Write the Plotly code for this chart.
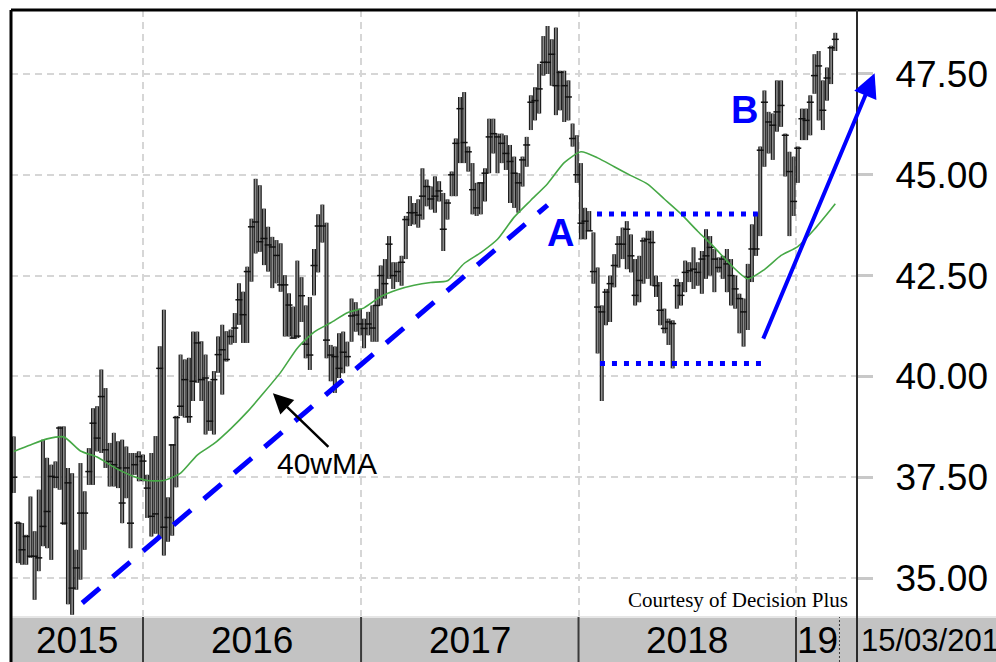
import plotly.graph_objects as go
import pandas as pd

# ---------------- data (weekly bars) ----------------
high = [38.51, 36.40, 36.36, 36.07, 37.02, 36.16, 37.19, 38.43, 37.98, 37.81, 37.89, 38.76, 38.76, 37.73, 37.60, 35.70, 37.85, 37.15, 38.22, 39.21,
        39.26, 40.17, 39.71, 38.35, 38.60, 38.39, 38.43, 38.26, 38.10, 38.10, 38.14, 38.06, 37.56, 38.10,
        38.52, 40.75, 41.65, 37.00, 38.32, 39.02, 40.54, 40.42, 40.46, 41.11, 41.11, 40.87, 40.54, 39.88, 40.13, 40.99,
        41.28, 41.12, 41.16, 41.57, 42.31, 42.10, 42.72, 43.91, 44.90, 44.74, 44.16, 43.71, 43.46, 43.38, 43.30, 42.51, 42.06, 41.73,
        42.87, 42.46, 41.76, 41.97, 43.16, 44.02, 44.26, 43.81, 40.78, 40.74, 41.07, 41.11, 40.86, 41.93, 41.84, 41.68,
        41.43, 41.60, 41.76, 42.17, 42.75, 42.91, 43.48, 42.83, 42.83, 42.99, 43.98, 44.47, 44.30, 44.39, 45.16, 44.88, 44.71,
        44.96, 44.84, 44.55, 44.39, 45.08, 45.90, 46.93, 47.05, 45.70, 45.29, 44.80, 44.80, 45.16, 46.39, 46.39, 46.02, 46.02,
        45.98, 45.74, 45.45, 45.04, 45.45, 45.94, 46.97, 47.17, 47.75, 48.44, 48.69, 48.36, 48.65, 47.58, 47.58, 47.34, 46.27, 45.98,
        45.29, 44.18, 44.10, 43.57, 42.70, 41.76, 42.17, 42.50, 43.03, 43.48, 43.69, 43.85, 43.52, 42.91, 42.99, 43.44, 43.61,
        43.61, 42.50, 42.34, 41.68, 41.43, 41.39, 42.42, 42.34, 42.87, 42.83, 43.20, 42.83, 43.11, 43.65, 43.48, 43.16, 42.95, 42.99,
        43.16, 42.91, 42.50, 42.05, 41.93, 42.79, 43.77, 44.06, 45.70, 47.09, 46.56, 46.52, 47.34, 47.34, 46.02, 45.57, 45.45,
        45.70, 46.64, 46.64, 46.97, 47.99, 48.07, 47.34, 47.66, 48.20, 48.52]
low = [37.11, 35.37, 35.33, 35.33, 35.50, 34.46, 35.17, 35.79, 35.74, 35.45, 37.23, 37.19, 36.32, 34.35, 34.09, 34.71, 34.96, 35.70, 37.31, 37.31,
       38.14, 38.10, 37.73, 37.27, 37.27, 37.23, 36.36, 36.98, 35.74, 37.56, 37.40, 37.40, 36.49, 36.03,
       36.10, 36.00, 35.56, 35.90, 36.05, 37.25, 39.02, 38.98, 38.85, 39.39, 39.84, 39.39, 38.56, 38.65, 38.56, 40.09,
       39.55, 40.37, 40.79, 40.83, 41.28, 40.83, 40.83, 42.35, 43.05, 43.09, 42.76, 42.60, 42.19, 42.31, 42.10, 40.99, 40.99, 40.95,
       40.95, 41.35, 40.45, 40.16, 42.01, 42.58, 43.32, 40.45, 39.88, 39.59, 39.96, 40.08, 40.25, 40.86, 41.11, 41.02,
       40.70, 41.02, 40.86, 40.86, 41.76, 41.93, 42.42, 42.17, 42.34, 42.25, 42.91, 43.73, 43.77, 43.69, 43.89, 44.22, 44.14,
       44.06, 44.34, 43.11, 43.89, 44.47, 44.47, 45.29, 45.29, 45.08, 44.02, 43.98, 44.02, 44.34, 45.04, 45.53, 45.04, 45.29,
       45.12, 44.30, 44.18, 44.06, 44.71, 45.20, 46.11, 46.35, 46.52, 47.46, 47.50, 47.21, 46.48, 46.60, 46.31, 46.35, 45.70, 44.80,
       43.40, 43.40, 43.61, 42.30, 40.57, 39.39, 41.27, 41.35, 42.21, 42.70, 42.91, 42.66, 42.58, 41.76, 41.84, 42.30, 42.42,
       42.25, 41.97, 41.27, 41.07, 40.78, 40.20, 41.68, 41.76, 42.09, 42.34, 42.17, 42.25, 42.05, 42.42, 42.50, 42.09, 42.58, 42.42,
       42.09, 41.76, 41.68, 41.07, 40.74, 41.15, 42.34, 42.99, 43.48, 45.20, 45.53, 45.37, 46.07, 46.19, 44.96, 43.48, 43.98,
       44.80, 45.86, 45.86, 45.98, 47.01, 46.35, 46.11, 46.84, 47.25, 48.07]
close = [37.50, 36.36, 35.70, 36.03, 35.54, 35.54, 35.50, 36.28, 36.65, 37.52, 37.50, 38.72, 36.36, 37.36, 34.75, 35.25, 36.61, 36.61, 37.64, 38.84,
         38.47, 39.50, 38.18, 37.89, 37.81, 37.73, 36.86, 37.73, 36.36, 37.81, 38.01, 37.90, 37.23, 36.53,
         36.59, 40.20, 36.26, 36.50, 38.30, 38.98, 39.26, 39.92, 39.00, 39.88, 40.83, 39.92, 39.96, 38.89, 39.92, 40.54,
         40.66, 40.42, 40.99, 41.20, 41.90, 41.53, 42.60, 43.71, 43.83, 43.34, 43.42, 43.26, 43.21, 43.00, 42.27, 42.27, 41.77, 40.95,
         41.00, 42.00, 40.80, 40.53, 42.75, 43.73, 43.73, 40.90, 40.53, 40.49, 40.20, 40.60, 40.49, 41.50, 41.52, 41.30,
         41.19, 41.30, 41.20, 41.76, 42.50, 42.30, 43.28, 42.50, 42.60, 42.83, 43.89, 44.06, 44.06, 44.00, 44.47, 44.71, 44.40,
         44.47, 44.60, 43.65, 44.30, 45.00, 45.78, 46.64, 45.80, 45.57, 44.63, 44.18, 44.80, 45.04, 45.94, 46.02, 45.94, 45.78,
         45.53, 45.33, 45.04, 44.80, 45.37, 45.74, 46.80, 46.84, 47.13, 47.79, 47.79, 47.99, 47.21, 47.54, 47.21, 46.93, 45.90, 45.00,
         43.80, 43.85, 43.61, 42.60, 41.72, 41.60, 42.09, 42.30, 42.75, 43.28, 43.28, 43.65, 42.99, 42.01, 42.38, 43.36, 43.40,
         43.32, 42.25, 41.64, 41.19, 41.35, 41.31, 42.25, 42.01, 42.58, 42.62, 42.66, 42.58, 42.91, 42.99, 43.20, 42.91, 42.70, 42.91,
         42.79, 42.50, 42.17, 41.93, 41.60, 42.46, 43.16, 43.16, 45.61, 46.80, 46.31, 46.23, 46.56, 46.72, 45.98, 45.08, 44.34,
         45.66, 46.39, 46.35, 46.80, 47.46, 47.70, 46.60, 47.40, 48.15, 48.36]
first_week = "2015-05-29"
last_date = "2019-03-15"

# 40-week moving average, read every 4th week (bar index) plus the last bar
ma_index = list(range(0, 197, 4)) + [197]
ma_values = [38.14, 38.30, 38.45, 38.50, 38.15, 38.00, 37.75, 37.55, 37.42, 37.42, 37.60, 38.05, 38.33, 38.70, 39.12, 39.60, 40.10,
             40.70, 41.10, 41.33, 41.58, 41.70, 41.98, 42.15, 42.26, 42.33, 42.37, 42.80, 43.07, 43.40, 43.95, 44.37, 44.78,
             45.30, 45.57, 45.42, 45.20, 44.98, 44.77, 44.40, 44.03, 43.60, 43.20, 42.76, 42.42, 42.65, 43.00, 43.22, 43.65,
             44.15, 44.28]

y_ticks = [35.0, 37.5, 40.0, 42.5, 45.0, 47.5]
year_bounds = ["2016-01-01", "2017-01-01", "2018-01-01", "2019-01-01"]
year_labels = ["2015", "2016", "2017", "2018", "19"]
date_label = "15/03/2019"

# annotation geometry (data coordinates)
trend_start = ("2015-09-21", 34.38)
trend_end = ("2017-11-10", 44.25)
box_top = ("2018-02-01", "2018-10-29", 44.03)
box_bottom = ("2018-02-06", "2018-11-05", 40.32)
arrow_tail = ("2018-11-06", 40.90)
arrow_tip = ("2019-05-13", 47.52)
ma_arrow_tip = ("2016-08-06", 39.58)

# ---------------- figure ----------------
dates = pd.date_range(first_week, periods=len(close), freq="7D")
opens = [close[0]] + close[:-1]
ma_dates = [dates[i] for i in ma_index]

x_range = [pd.Timestamp("2015-05-24 10:00"), pd.Timestamp("2019-04-13 10:00")]
y_range = [34.033, 49.087]

def xfrac(d):
    d = pd.Timestamp(d)
    return (d - x_range[0]) / (x_range[1] - x_range[0])

fig = go.Figure()
# outlined bars: dark wide stroke underneath, grey stroke on top
fig.add_trace(go.Ohlc(x=dates, open=opens, high=high, low=low, close=close,
                      increasing=dict(line=dict(color="#1e1e1e", width=4)),
                      decreasing=dict(line=dict(color="#1e1e1e", width=4)),
                      tickwidth=0, hoverinfo="skip"))
fig.add_trace(go.Ohlc(x=dates, open=opens, high=high, low=low, close=close,
                      increasing=dict(line=dict(color="#8c8c8c", width=1.6)),
                      decreasing=dict(line=dict(color="#8c8c8c", width=1.6)),
                      tickwidth=0, hoverinfo="skip"))
fig.add_trace(go.Scatter(x=dates, y=close, mode="markers",
                         marker=dict(symbol="line-ew", size=5, line=dict(width=1.5, color="#111111")),
                         hoverinfo="skip"))
fig.add_trace(go.Scatter(x=ma_dates, y=ma_values, mode="lines",
                         line=dict(color="#46a846", width=1.6, shape="spline", smoothing=0.6),
                         hoverinfo="skip"))

W, H = 996, 662
ML, MR, MT, MB = 11, 139, 10, 45
pw, ph = W - ML - MR, H - MT - MB
band_y = -MB / ph
right_x = (W - ML) / pw

grid = dict(showgrid=True, gridcolor="#d6d6d6", gridwidth=2, griddash="7px,5px")

fig.update_layout(
    width=W, height=H, autosize=False, margin=dict(l=ML, r=MR, t=MT, b=MB, pad=0, autoexpand=False),
    paper_bgcolor="white", plot_bgcolor="white", showlegend=False,
    xaxis=dict(type="date", range=x_range, tickvals=year_bounds, showticklabels=False, automargin=False,
               ticks="", zeroline=False, showline=False, rangeslider=dict(visible=False), **grid),
    yaxis=dict(side="right", range=y_range, tickvals=y_ticks, tickformat=".2f", automargin=False,
               ticks="outside", ticklen=15, tickwidth=3, tickcolor="#c8c8c8",
               ticklabelstandoff=15,
               tickfont=dict(family="Liberation Sans", size=37, color="black"),
               zeroline=False, showline=False, **grid),
)

shapes = []
# bottom band
shapes.append(dict(type="rect", xref="paper", yref="paper", x0=0, x1=right_x, y0=band_y, y1=0,
                   fillcolor="#c3c3c3", line=dict(width=0)))
shapes.append(dict(type="line", xref="paper", yref="paper", x0=0, x1=right_x, y0=0, y1=0,
                   line=dict(color="#e6e6e6", width=2)))
for d in year_bounds:
    fx = xfrac(d)
    shapes.append(dict(type="line", xref="paper", yref="paper", x0=fx, x1=fx, y0=band_y, y1=0,
                       line=dict(color="#3a3a3a", width=2)))
fx = xfrac(last_date)
shapes.append(dict(type="line", xref="paper", yref="paper", x0=fx, x1=fx, y0=band_y, y1=0,
                   line=dict(color="#3a3a3a", width=1, dash="2px,2px")))
# frame
shapes.append(dict(type="line", xref="paper", yref="paper", x0=0, x1=right_x, y0=1, y1=1,
                   line=dict(color="black", width=3)))
shapes.append(dict(type="line", xref="paper", yref="paper", x0=0, x1=0, y0=band_y, y1=1,
                   line=dict(color="black", width=3)))
shapes.append(dict(type="line", xref="paper", yref="paper", x0=1, x1=1, y0=band_y, y1=1,
                   line=dict(color="#2a2a2a", width=2)))
# blue trend line and box
shapes.append(dict(type="line", xref="x", yref="y", x0=trend_start[0], y0=trend_start[1],
                   x1=trend_end[0], y1=trend_end[1], line=dict(color="#0000ff", width=5, dash="23px,17px")))
for seg in (box_top, box_bottom):
    shapes.append(dict(type="line", xref="x", yref="y", x0=seg[0], x1=seg[1], y0=seg[2], y1=seg[2],
                       line=dict(color="#0000ff", width=5, dash="5px,7px")))
fig.update_layout(shapes=shapes)

ann = []
ann.append(dict(xref="x", yref="y", x=arrow_tip[0], y=arrow_tip[1], axref="x", ayref="y",
                ax=arrow_tail[0], ay=arrow_tail[1], text="", showarrow=True,
                arrowhead=2, arrowsize=1.2, arrowwidth=4, arrowcolor="#0000ff"))
ann.append(dict(xref="x", yref="y", x=ma_arrow_tip[0], y=ma_arrow_tip[1], ax=57, ay=55,
                text="", showarrow=True, arrowhead=2, arrowsize=1.6, arrowwidth=2.5, arrowcolor="black"))
ann.append(dict(xref="x", yref="y", x="2016-11-04", y=37.85, text="40wMA", showarrow=False,
                font=dict(family="Liberation Sans", size=30, color="black")))
ann.append(dict(xref="x", yref="y", x="2017-12-01", y=43.56, text="<b>A</b>", showarrow=False,
                font=dict(family="Liberation Sans", size=38, color="#0000ff")))
ann.append(dict(xref="x", yref="y", x="2018-10-07", y=46.60, text="<b>B</b>", showarrow=False,
                font=dict(family="Liberation Sans", size=38, color="#0000ff")))
ann.append(dict(xref="paper", yref="paper", x=(850 - ML) / pw, y=(H - MB - 600) / ph, xanchor="right",
                yanchor="middle", text="Courtesy of Decision Plus", showarrow=False,
                font=dict(family="Liberation Serif", size=21, color="black")))
# year labels in the band
starts = [x_range[0]] + [pd.Timestamp(d) for d in year_bounds]
ends = [pd.Timestamp(d) for d in year_bounds] + [pd.Timestamp(last_date)]
for lab, s, e in zip(year_labels, starts, ends):
    mid = s + (e - s) / 2
    ann.append(dict(xref="paper", yref="paper", x=xfrac(mid), y=band_y / 2 - 0.002, xanchor="center",
                    yanchor="middle", text=lab, showarrow=False,
                    font=dict(family="Liberation Sans", size=37, color="black")))
ann.append(dict(xref="paper", yref="paper", x=1 + 2 / pw, y=band_y / 2 - 0.002, xanchor="left",
                yanchor="middle", text=date_label, showarrow=False,
                font=dict(family="Liberation Sans", size=31, color="black")))
fig.update_layout(annotations=ann)

fig.write_html("out.html", config={"displayModeBar": False},
               post_script="document.body.style.margin='0px';")
